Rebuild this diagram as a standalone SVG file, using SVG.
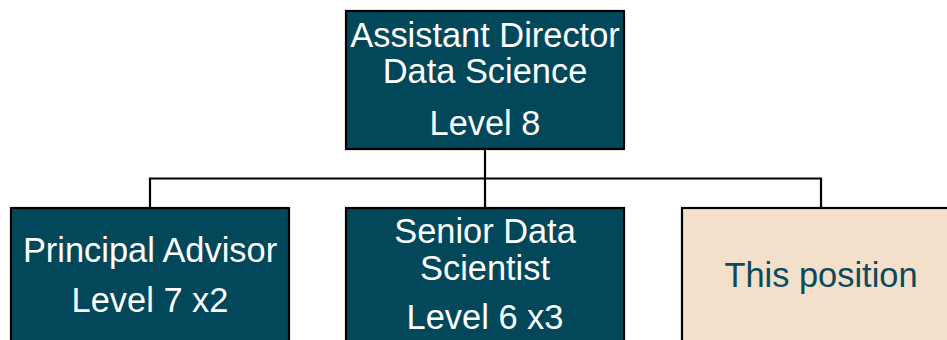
<svg xmlns="http://www.w3.org/2000/svg" width="947" height="340" viewBox="0 0 947 340">
  <style>
    .box { fill: #02475A; stroke: #000; stroke-width: 2.2; }
    .box-self { fill: #F4DFCA; stroke: #000; stroke-width: 2.2; }
    .label { font-family: "Liberation Sans", Arial, sans-serif; font-size: 34.4px; text-anchor: middle; fill: #FFFFFF; }
    .label-self { fill: #0B4A5A; }
    .link { fill: none; stroke: #000; stroke-width: 2.2; }
  </style>
  <rect width="947" height="340" fill="#FFFFFF"/>

  <!-- connectors -->
  <g id="connectors">
    <path class="link" d="M485,150 V208"/>
    <path class="link" d="M150,208 V178.5 H821 V208"/>
  </g>

  <!-- top: Assistant Director -->
  <g id="node-assistant-director">
    <rect class="box" x="346" y="11" width="278" height="138"/>
    <text class="label" x="485" y="47">Assistant Director</text>
    <text class="label" x="485" y="83">Data Science</text>
    <text class="label" x="485" y="135">Level 8</text>
  </g>

  <!-- bottom row -->
  <g id="node-principal-advisor">
    <rect class="box" x="11" y="208" width="278" height="140"/>
    <text class="label" x="150" y="262">Principal Advisor</text>
    <text class="label" x="150" y="312">Level 7 x2</text>
  </g>

  <g id="node-senior-data-scientist">
    <rect class="box" x="346" y="208" width="278" height="140"/>
    <text class="label" x="485" y="243">Senior Data</text>
    <text class="label" x="485" y="280">Scientist</text>
    <text class="label" x="485" y="329">Level 6 x3</text>
  </g>

  <g id="node-this-position">
    <rect class="box-self" x="682" y="208" width="278" height="140"/>
    <text class="label label-self" x="821" y="287">This position</text>
  </g>
</svg>
